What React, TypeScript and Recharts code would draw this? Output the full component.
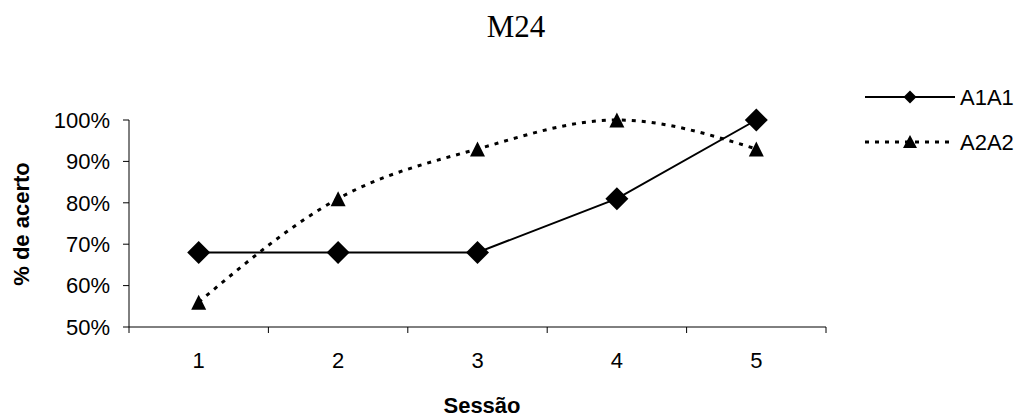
import React from 'react';
import { LineChart, Line, XAxis, YAxis } from 'recharts';

const sessions = [1, 2, 3, 4, 5];
const a1a1 = [68, 68, 68, 81, 100];
const a2a2 = [56, 81, 93, 100, 93];
const yTicks = [50, 60, 70, 80, 90, 100];
const xTickPositions = [0.5, 1, 1.5, 2, 2.5, 3, 3.5, 4, 4.5, 5, 5.5];
const seriesNames = ['A1A1', 'A2A2'];
const titleText = 'M24';
const xTitle = 'Sessão';
const yTitle = '% de acerto';

const data = sessions.map((s, i) => ({ s, A1A1: a1a1[i], A2A2: a2a2[i] }));

const FONT = 'Arial, "Liberation Sans", sans-serif';
const FS = 22;
const DASH = '4 6';

const Diamond = (props: any) => {
  const { cx, cy } = props;
  if (cx == null || cy == null) return null;
  const r = 11.5;
  return <polygon points={`${cx},${cy - r} ${cx + r},${cy} ${cx},${cy + r} ${cx - r},${cy}`} fill="#000" />;
};

const Triangle = (props: any) => {
  const { cx, cy } = props;
  if (cx == null || cy == null) return null;
  const h = 7.5;
  return <polygon points={`${cx},${cy - h} ${cx + h},${cy + h} ${cx - h},${cy + h}`} fill="#000" />;
};

const XTick = (props: any) => {
  const { x, y, payload } = props;
  const v = payload.value;
  if (Number.isInteger(v)) {
    return (
      <text x={x} y={y + 41} textAnchor="middle" fontSize={FS} fontFamily={FONT} fill="#000">
        {v}
      </text>
    );
  }
  return <line x1={x} x2={x} y1={y} y2={y + 6} stroke="#000" strokeWidth={1} />;
};

export default function App() {
  return (
    <div style={{ position: 'absolute', left: 0, top: 0, width: 1025, height: 417, background: '#fff' }}>
      <LineChart
        width={1025}
        height={417}
        data={data}
        margin={{ top: 120, right: 199, bottom: 0, left: 0 }}
      >
        <XAxis
          dataKey="s"
          type="number"
          domain={[0.5, 5.5]}
          ticks={xTickPositions}
          interval={0}
          tickLine={false}
          tickSize={0}
          tickMargin={0}
          tick={<XTick />}
          height={90}
          stroke="#000"
          allowDecimals
        />
        <YAxis
          type="number"
          domain={[50, 100]}
          ticks={yTicks}
          interval={0}
          width={129}
          tickSize={6}
          tickMargin={13}
          tickFormatter={(v: number) => `${v}%`}
          tick={{ fontSize: FS, fontFamily: FONT, fill: '#000' }}
          stroke="#000"
        />
        <Line
          type="linear"
          dataKey="A1A1"
          stroke="#000"
          strokeWidth={2}
          dot={<Diamond />}
          activeDot={false}
          isAnimationActive={false}
        />
        <Line
          type="monotone"
          dataKey="A2A2"
          stroke="#000"
          strokeWidth={3}
          strokeDasharray={DASH}
          dot={<Triangle />}
          activeDot={false}
          isAnimationActive={false}
        />
      </LineChart>
      <svg style={{ position: 'absolute', left: 0, top: 0, pointerEvents: 'none' }} width={1025} height={417}>
        <text
          x={516}
          y={37}
          textAnchor="middle"
          fontSize={31}
          fontFamily={'"Times New Roman", "Liberation Serif", serif'}
          fill="#000"
        >
          {titleText}
        </text>
        <text x={482} y={413} textAnchor="middle" fontSize={FS} fontWeight="bold" fontFamily={FONT} fill="#000">
          {xTitle}
        </text>
        <text
          x={29}
          y={224}
          textAnchor="middle"
          fontSize={FS}
          fontWeight="bold"
          fontFamily={FONT}
          fill="#000"
          transform="rotate(-90 29 224)"
        >
          {yTitle}
        </text>
        <line x1={865} x2={955} y1={97} y2={97} stroke="#000" strokeWidth={2} />
        <polygon points="910,90.5 916.5,97 910,103.5 903.5,97" fill="#000" />
        <text x={960} y={105} fontSize={FS} fontFamily={FONT} fill="#000">{seriesNames[0]}</text>
        <line x1={865} x2={955} y1={142} y2={142} stroke="#000" strokeWidth={3} strokeDasharray={DASH} />
        <polygon points="910,135 917,148 903,148" fill="#000" />
        <text x={960} y={150} fontSize={FS} fontFamily={FONT} fill="#000">{seriesNames[1]}</text>
      </svg>
    </div>
  );
}
